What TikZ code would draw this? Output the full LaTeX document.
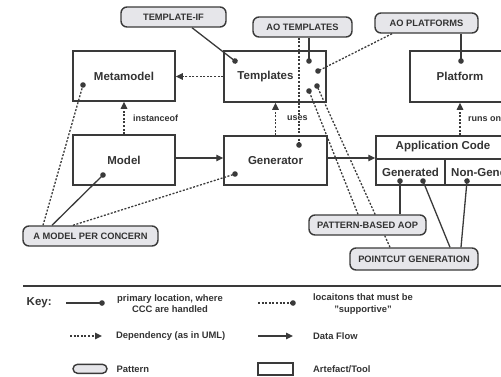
\documentclass[tikz,border=0pt]{standalone}
\usepackage{fontspec}
\setmainfont{Liberation Sans}
\usetikzlibrary{arrows.meta,calc}
\pgfdeclarelayer{wires}
\pgfsetlayers{wires,main}

\definecolor{ink}{HTML}{3A3A3A}
\definecolor{pillfill}{HTML}{E6E6EA}
\definecolor{txt}{HTML}{333333}

\begin{document}
\begin{tikzpicture}[x=1pt,y=-1pt,
  box/.style={draw=ink, line width=1.5pt, minimum width=102pt, minimum height=50pt,
    inner sep=0pt, text=txt, font=\bfseries\fontsize{11.5}{13}\selectfont},
  celltext/.style={inner sep=0pt, text=txt, font=\bfseries\fontsize{11.5}{13}\selectfont},
  pill/.style={draw=ink, fill=pillfill, line width=1.4pt, rounded corners=6pt,
    minimum height=20pt, inner sep=0pt, text=txt, font=\bfseries\fontsize{9.3}{11}\selectfont},
  lbl/.style={text=txt, font=\bfseries\fontsize{9}{11}\selectfont, inner sep=1pt},
  keytext/.style={text=txt, font=\bfseries\fontsize{9.4}{11.3}\selectfont, inner sep=0pt},
  link/.style={draw=ink, line width=1.3pt},
  dep/.style={draw=ink, line width=1.3pt, dash pattern=on 2pt off 1.6pt},
  tip/.style={-{Triangle[length=7pt,width=6.5pt]}},
  dotend/.style={-{Circle[length=5.5pt]}, shorten >=-2.75pt},
]
\useasboundingbox (0,0) rectangle (501,376);
\clip (0,0) rectangle (501,376);

% ---------- artefacts / tools ----------
\node[box] (meta) at (124,76) {Metamodel};
\node[box, minimum height=51pt] (tpl) at (275,76.5) {};
\node[celltext] (tplt) at (265.5,76.5) {Templates};
\node[box] (model) at (124,160) {Model};
\node[box, minimum width=103pt, minimum height=49pt] (gen) at (275.5,160.5) {Generator};
\node[box, minimum width=100pt, minimum height=51pt] (plat) at (460,76.5) {Platform};
\node[box, minimum width=134pt, minimum height=49pt] (app) at (443,160.5) {};

% application code compartments
\coordinate (rowL) at (376,159);
\coordinate (rowR) at (510,159);
\coordinate (colT) at (445,159);
\coordinate (colB) at (445,185);
\draw[ink, line width=1.5pt] (rowL) -- (rowR);
\draw[ink, line width=1.5pt] (colT) -- (colB);
\node[celltext] (appt) at (443,146.5) {Application Code};
\node[celltext] (gent) at (410.5,172) {Generated};
\node[celltext, anchor=west] (ngent) at (451,172) {Non-Generated};

% ---------- patterns ----------
\node[pill, minimum width=105pt] (tif) at (173.5,17) {TEMPLATE-IF};
\node[pill, minimum width=99pt] (aot) at (302.5,27) {AO TEMPLATES};
\node[pill, minimum width=103pt] (aop) at (426.5,23) {AO PLATFORMS};
\node[pill, minimum width=135pt] (mpc) at (90.5,236) {A MODEL PER CONCERN};
\node[pill, minimum width=117pt] (pba) at (367.5,225) {PATTERN-BASED AOP};
\node[pill, minimum width=128pt, minimum height=22pt] (pcg) at (414,259) {POINTCUT GENERATION};

% ---------- handling locations ----------
\coordinate (dTif) at (235,61);
\coordinate (dAoT) at (309,61);
\coordinate (dAoP) at (318,71);
\coordinate (dPc) at (317,86);
\coordinate (dPb) at (309,91);
\coordinate (dGenU) at (299,145);
\coordinate (dGenM) at (235,174);
\coordinate (dMeta) at (83,85);
\coordinate (dModel) at (103,175);
\coordinate (dPlat) at (461,61);
\coordinate (dG1) at (400,181);
\coordinate (dG2) at (423,181);
\coordinate (dNG) at (467,181);

% ---------- relations ----------
\node[lbl, anchor=west] (inst) at (132,118) {instanceof};
\node[lbl, anchor=west, fill=white] (uses) at (286,118) {uses};
\node[lbl, anchor=west] (runs) at (467,119) {runs on};

\begin{pgfonlayer}{wires}
  % dependencies
  \draw[dep, tip] (tpl.west) -- (meta.east |- tpl.west);
  \draw[dep, tip] (model.north) -- (meta.south);
  \draw[dep, tip] (gen.north) -- (tpl.south -| gen.north);
  \draw[dep, tip] ([xshift=17pt]app.north) -- ([xshift=17pt]app.north |- plat.south);
  % data flow
  \draw[link, tip] ([yshift=2pt]model.east) -- ([yshift=2pt]model.east -| gen.west);
  \draw[link, tip] ([yshift=2.5pt]gen.east) -- ([yshift=2.5pt]gen.east -| app.west);
  % primary locations
  \draw[link, dotend] ([xshift=18.5pt]tif.south) -- (dTif);
  \draw[link, dotend] (aot.south -| dAoT) -- (dAoT);
  \draw[link, dotend] (aop.south -| dPlat) -- (dPlat);
  \draw[link, dotend] ([xshift=-38.5pt]mpc.north) -- (dModel);
  \draw[link, dotend] (pba.north -| dG1) -- (dG1);
  \draw[link, dotend] ([xshift=36pt]pcg.north) -- (dG2);
  \draw[link, dotend] ([xshift=47pt]pcg.north) -- (dNG);
  % supportive locations
  \draw[dep, dotend] (aot.south -| dGenU) -- (dGenU);
  \draw[dep, dotend] ([xshift=-34.5pt]aop.south) -- (dAoP);
  \draw[dep, dotend] ([xshift=-9.5pt]pba.north) -- (dPb);
  \draw[dep, dotend] ([xshift=-24pt]pcg.north) -- (dPc);
  \draw[dep, dotend] ([xshift=-47.5pt]mpc.north) -- (dMeta);
  \draw[dep, dotend] ([xshift=-17.5pt]mpc.north) -- (dGenM);
\end{pgfonlayer}

% ---------- key ----------
\coordinate (sepL) at (23,286);
\coordinate (sepR) at (501,286);
\draw[ink, line width=1.6pt] (sepL) -- (sepR);

\node[keytext, font=\bfseries\fontsize{11.5}{13}\selectfont, anchor=west] (key) at (26.5,303) {Key:};

\coordinate (k1a) at (66,303);
\coordinate (k1b) at (102,303);
\draw[link, dotend] (k1a) -- (k1b);
\node[keytext, align=center] (k1t) at (170,303.5) {primary location, where\\CCC are handled};

\coordinate (k2a) at (70,336);
\coordinate (k2b) at (102,336);
\draw[dep, tip] (k2a) -- (k2b);
\node[keytext, anchor=west] (k2t) at (116,336) {Dependency (as in UML)};

\node[pill, minimum width=34pt, minimum height=9pt, rounded corners=4.5pt] (k3) at (90,368.8) {};
\node[keytext, anchor=west] (k3t) at (116.5,369) {Pattern};

\coordinate (k4a) at (258,303);
\coordinate (k4b) at (293,303);
\draw[dep, dotend] (k4a) -- (k4b);
\node[keytext, align=center] (k4t) at (363,304) {locaitons that must be\\"supportive"};

\coordinate (k5a) at (258,336);
\coordinate (k5b) at (293,336);
\draw[link, tip] (k5a) -- (k5b);
\node[keytext, anchor=west] (k5t) at (313,336) {Data Flow};

\node[draw=ink, line width=1.4pt, minimum width=35pt, minimum height=12pt, inner sep=0pt] (k6) at (275.5,369) {};
\node[keytext, anchor=west] (k6t) at (313,369) {Artefact/Tool};
\end{tikzpicture}
\end{document}
